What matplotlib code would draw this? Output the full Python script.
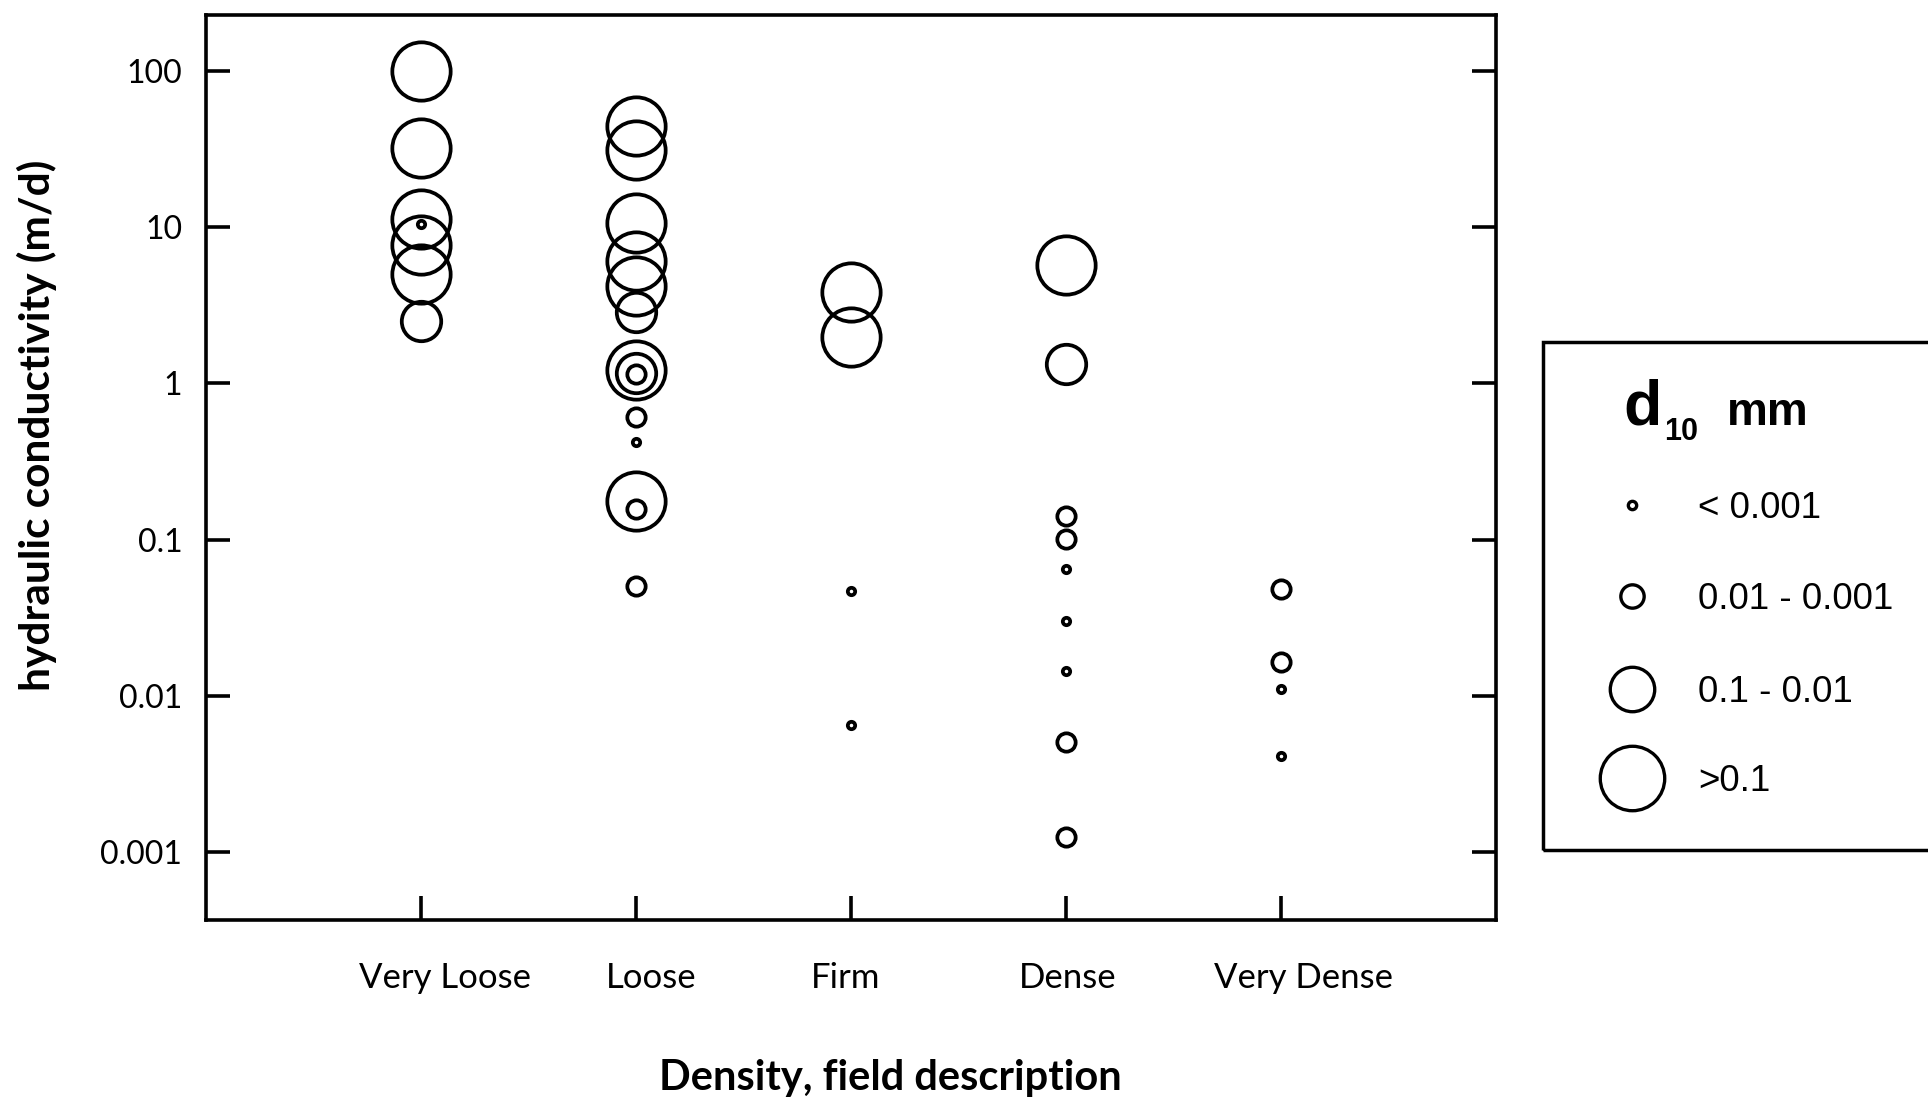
import numpy as np
import matplotlib
matplotlib.use('Agg')
import matplotlib.pyplot as plt
from matplotlib.patches import Rectangle
from matplotlib.lines import Line2D
from matplotlib.ticker import NullLocator, FixedLocator
from matplotlib.transforms import ScaledTranslation

plt.rcParams['font.family'] = ['Lato', 'DejaVu Sans']

# Categories on the x axis
categories = ['Very Loose', 'Loose', 'Firm', 'Dense', 'Very Dense']
# d10 classes (index 0 = finest)
d10_labels = ['< 0.001', '0.01 - 0.001', '0.1 - 0.01', '>0.1']

# hydraulic conductivity (m/d) and d10 class index for each point
very_loose_k = [100, 32, 11.3, 10.5, 7.7, 5.0, 2.52]
very_loose_d10 = [3, 3, 3, 0, 3, 3, 2]
loose_k = [44, 31, 10.6, 6.1, 4.2, 2.86, 1.21, 1.17, 1.15, 0.61, 0.42, 0.178, 0.158, 0.0507]
loose_d10 = [3, 3, 3, 3, 3, 2, 3, 2, 1, 1, 0, 3, 1, 1]
firm_k = [3.82, 1.99, 0.047, 0.0065]
firm_d10 = [3, 3, 0, 0]
dense_k = [5.73, 1.34, 0.142, 0.101, 0.0646, 0.0303, 0.0144, 0.00508, 0.00125]
dense_d10 = [3, 2, 1, 1, 0, 0, 0, 1, 1]
very_dense_k = [0.0487, 0.0165, 0.0111, 0.00416]
very_dense_d10 = [1, 1, 0, 0]

yticks = [0.001, 0.01, 0.1, 1, 10, 100]
ytick_labels = ['0.001', '0.01', '0.1', '1', '10', '100']

# marker sizes (pt) for each d10 class
plot_ms = [5.3, 13.2, 28.4, 42.0]
legend_ms = [6.0, 16.8, 32.0, 46.4]

fig = plt.figure(figsize=(19.28, 11.03), dpi=100)
ax = fig.add_axes([0.1068, 0.1659, 0.7759 - 0.1068, 0.9864 - 0.1659])

all_k = [very_loose_k, loose_k, firm_k, dense_k, very_dense_k]
all_d10 = [very_loose_d10, loose_d10, firm_d10, dense_d10, very_dense_d10]

for i in range(len(categories)):
    k = np.array(all_k[i])
    cls = np.array(all_d10[i])
    for c in range(4):
        sel = k[cls == c]
        if len(sel) == 0:
            continue
        ax.plot(np.full(len(sel), i + 1), sel, linestyle='none', marker='o',
                mfc='none', mec='black', ms=plot_ms[c], mew=2.7)

ax.set_yscale('log')
ax.set_ylim(3.7e-4, 227)
ax.set_xlim(0, 6)
ax.yaxis.set_major_locator(FixedLocator(yticks))
ax.yaxis.set_minor_locator(NullLocator())
ax.set_yticklabels(ytick_labels)
ax.set_xticks(range(1, len(categories) + 1))
ax.set_xticklabels(categories)

for sp in ax.spines.values():
    sp.set_linewidth(2.6)
ax.tick_params(axis='y', direction='in', left=True, right=True, length=17, width=2.6,
               labelsize=23, pad=17)
ax.tick_params(axis='x', direction='in', bottom=True, top=False, length=17, width=2.6,
               labelsize=25, pad=30)

# the category labels sit a bit off their ticks in the original
label_shift = [17, 11, -3.5, 1.5, 16]
for lbl, dx in zip(ax.get_xticklabels(), label_shift):
    lbl.set_transform(lbl.get_transform() + ScaledTranslation(dx / 72, 0, fig.dpi_scale_trans))

fig.text(0.0192, 0.614, 'hydraulic conductivity (m/d)', rotation=90, ha='center', va='center',
         fontsize=30.5, fontweight='bold')
fig.text(0.4616, 0.0115, 'Density, field description', ha='center', va='baseline',
         fontsize=30, fontweight='bold')

# legend box (runs off the right edge)
fig.add_artist(Rectangle((0.8003, 0.2295), 0.3, 0.69 - 0.2295, transform=fig.transFigure,
                         fill=False, lw=2.5, ec='black'))
fig.text(0.8420, 0.6147, 'd', family=['Liberation Sans'], fontsize=45, fontweight='bold', va='baseline')
fig.text(0.8630, 0.6011, '10', family=['Liberation Sans'], fontsize=22, fontweight='bold', va='baseline')
fig.text(0.8955, 0.6147, 'mm', family=['Liberation Sans'], fontsize=33, fontweight='bold', va='baseline')

marker_y = [0.5422, 0.4597, 0.3753, 0.2947]
label_y = [0.5305, 0.4480, 0.3637, 0.2830]
for c in range(4):
    fig.add_artist(Line2D([0.8465], [marker_y[c]], transform=fig.transFigure, linestyle='none',
                          marker='o', mfc='none', mec='black', ms=legend_ms[c], mew=2.4))
    fig.text(0.8807, label_y[c], d10_labels[c], family=['Liberation Sans'], fontsize=26.5,
             va='baseline')

fig.savefig('out.png', dpi=100)
